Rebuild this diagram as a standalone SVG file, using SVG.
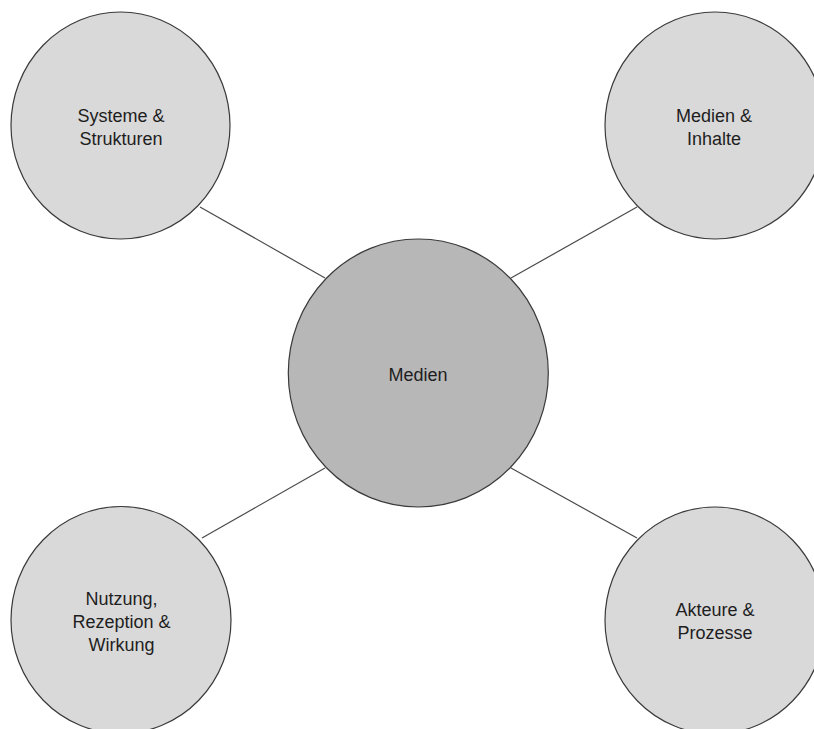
<svg xmlns="http://www.w3.org/2000/svg" width="814" height="729" viewBox="0 0 814 729">
<style>
.outer{fill:#d9d9d9;stroke:#3a3a3a;stroke-width:1.2}
.center{fill:#b7b7b7;stroke:#3a3a3a;stroke-width:1.2}
.edge{stroke:#4a4a4a;stroke-width:1.2;fill:none}
text{font-family:"Liberation Sans",Arial,sans-serif;font-size:18px;fill:#1e1e1e;text-anchor:middle}
</style>
<rect width="814" height="729" fill="#ffffff"/>
<g id="connectors">
<line class="edge" x1="200" y1="207" x2="325" y2="278"/>
<line class="edge" x1="637" y1="207" x2="511" y2="278"/>
<line class="edge" x1="202" y1="538" x2="325" y2="468"/>
<line class="edge" x1="637" y1="538" x2="511" y2="468"/>
</g>
<g id="node-systeme">
<ellipse class="outer" cx="120.5" cy="125.5" rx="109.5" ry="113.5"/>
<text x="121" y="122">Systeme &amp;</text>
<text x="121" y="145">Strukturen</text>
</g>
<g id="node-medien-inhalte">
<ellipse class="outer" cx="715" cy="125.5" rx="110" ry="113.5"/>
<text x="714" y="122">Medien &amp;</text>
<text x="714" y="145">Inhalte</text>
</g>
<g id="node-nutzung">
<ellipse class="outer" cx="121" cy="620" rx="110" ry="113.5"/>
<text x="121.5" y="605">Nutzung,</text>
<text x="121.5" y="628">Rezeption &amp;</text>
<text x="121.5" y="651">Wirkung</text>
</g>
<g id="node-akteure">
<ellipse class="outer" cx="715" cy="620.5" rx="110" ry="113.5"/>
<text x="715" y="616">Akteure &amp;</text>
<text x="715" y="639">Prozesse</text>
</g>
<g id="node-medien">
<ellipse class="center" cx="418.3" cy="373" rx="130" ry="134"/>
<text x="418" y="381">Medien</text>
</g>
</svg>
